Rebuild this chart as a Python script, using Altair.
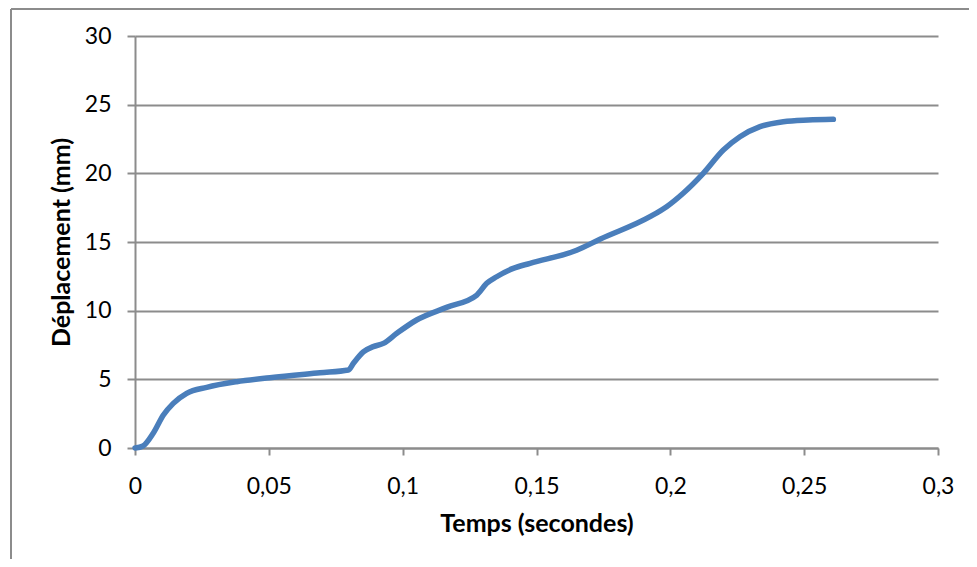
import altair as alt
import pandas as pd

temps = [0.0, 0.003, 0.0068, 0.0106, 0.0143, 0.0193, 0.0268, 0.038, 0.0504, 0.0691, 0.0797,
         0.0816, 0.0853, 0.089, 0.0928, 0.0978, 0.1052, 0.1164, 0.1277, 0.1314, 0.1351,
         0.1413, 0.1476, 0.165, 0.1737, 0.1924, 0.1986, 0.2048, 0.2123, 0.2198, 0.226,
         0.2335, 0.2422, 0.2515, 0.2609]
deplacement = [0.0, 0.15, 1.07, 2.4, 3.25, 3.98, 4.42, 4.83, 5.12, 5.48, 5.68,
               6.17, 7.0, 7.38, 7.62, 8.35, 9.32, 10.24, 11.14, 11.99, 12.47,
               13.08, 13.45, 14.4, 15.2, 16.84, 17.57, 18.55, 20.0, 21.7, 22.67,
               23.4, 23.76, 23.88, 23.93]

x_ticks = [0, 0.05, 0.1, 0.15, 0.2, 0.25, 0.3]
y_ticks = [0, 5, 10, 15, 20, 25, 30]

df = pd.DataFrame({"t": temps, "d": deplacement})

W, H = 803, 412
PL, PT, PR, PB = 127, 28, 31, 111
FONT = "Lato"
GREY = "#8c8c8c"

line = alt.Chart(df).mark_line(color="#4a7ebb", strokeWidth=5.5, strokeCap="round",
                               strokeJoin="round", interpolate="monotone").encode(
    x=alt.X("t:Q", scale=alt.Scale(domain=[0, 0.3], nice=False),
            axis=alt.Axis(values=x_ticks, title="Temps (secondes)", grid=False,
                          labelExpr="replace(format(datum.value, '~g'), '.', ',')",
                          labelFlush=False, labelOverlap=False,
                          tickSize=7, labelPadding=20, titlePadding=13)),
    y=alt.Y("d:Q", scale=alt.Scale(domain=[0, 30], nice=False),
            axis=alt.Axis(values=y_ticks, title="Déplacement (mm)", grid=True,
                          labelFlush=False, labelOverlap=False,
                          tickSize=8, labelPadding=16, titlePadding=10)),
)

box = pd.DataFrame({"a": [0]})
left_border = alt.Chart(box).mark_rule(color=GREY, strokeWidth=2).encode(
    x=alt.value(-PL + 3), y=alt.value(-PT + 1), y2=alt.value(H + PB))
top_border = alt.Chart(box).mark_rule(color=GREY, strokeWidth=2).encode(
    x=alt.value(-PL + 3), x2=alt.value(W + PR), y=alt.value(-PT + 1))

chart = alt.layer(line, left_border, top_border).properties(
    width=W, height=H,
    background="white",
    autosize=alt.AutoSizeParams(type="none"),
    padding={"left": PL, "top": PT, "right": PR, "bottom": PB},
).configure_view(stroke=None).configure_axis(
    domainColor=GREY, domainWidth=2, tickColor=GREY, tickWidth=2,
    gridColor=GREY, gridWidth=2, gridOpacity=1,
    labelFont=FONT, labelFontSize=23, labelColor="black",
    titleFont=FONT, titleFontSize=25, titleFontWeight="bold", titleColor="black",
)

chart.save("out.html", embed_options={"renderer": "svg", "actions": False})
